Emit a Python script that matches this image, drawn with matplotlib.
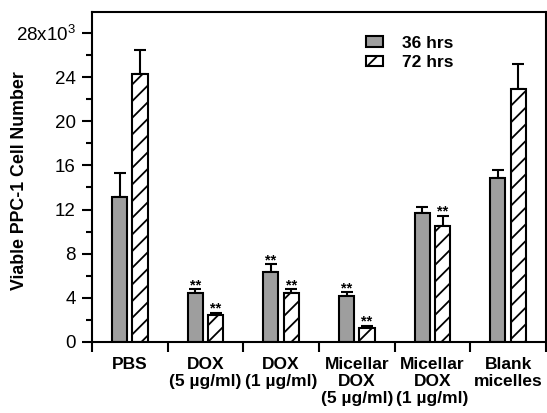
import numpy as np
import matplotlib
matplotlib.use("Agg")
from matplotlib import pyplot as plt
from matplotlib.patches import Patch

plt.rcParams['font.family'] = ['Liberation Sans', 'DejaVu Sans']
plt.rcParams['mathtext.fontset'] = 'custom'
plt.rcParams['mathtext.rm'] = 'Liberation Sans'
plt.rcParams['hatch.linewidth'] = 1.3

# data (x10^3 cells)
groups = ["PBS", "DOX\n(5 \u00b5g/ml)", "DOX\n(1 \u00b5g/ml)",
          "Micellar\nDOX\n(5 \u00b5g/ml)", "Micellar\nDOX\n(1 \u00b5g/ml)",
          "Blank\nmicelles"]
hrs36 = [13.1, 4.45, 6.3, 4.15, 11.65, 14.9]
err36 = [2.2, 0.35, 0.75, 0.35, 0.55, 0.7]
hrs72 = [24.3, 2.45, 4.4, 1.3, 10.55, 22.9]
err72 = [2.2, 0.2, 0.4, 0.15, 0.9, 2.3]
sig36 = [False, True, True, True, False, False]
sig72 = [False, True, True, True, True, False]
yticks = [0, 4, 8, 12, 16, 20, 24, 28]
ytick_labels = ['0', '4', '8', '12', '16', '20', '24', '28x10$^3$']

fig = plt.figure(figsize=(5.47, 4.13), dpi=100)
ax = fig.add_axes([0.168, 0.172, 0.830, 0.799])

x = np.arange(len(groups))
w = 0.2
off = 0.135
gray = '#9e9e9e'
ax.bar(x - off, hrs36, w, color=gray, edgecolor='black', linewidth=1.5, zorder=2)
ax.bar(x + off, hrs72, w, color='white', edgecolor='black', linewidth=1.5,
       hatch='//', zorder=2)
ax.errorbar(x - off, hrs36, yerr=[np.zeros(len(x)), err36], fmt='none',
            ecolor='black', elinewidth=1.5, capsize=4.3, capthick=1.5, zorder=1)
ax.errorbar(x + off, hrs72, yerr=[np.zeros(len(x)), err72], fmt='none',
            ecolor='black', elinewidth=1.5, capsize=4.3, capthick=1.5, zorder=1)

for i in range(len(x)):
    if sig36[i]:
        ax.annotate('**', (x[i] - off, hrs36[i] + err36[i]), xytext=(0, 0),
                    textcoords='offset points', ha='center', va='baseline',
                    fontsize=10.5, fontweight='bold')
    if sig72[i]:
        ax.annotate('**', (x[i] + off, hrs72[i] + err72[i]), xytext=(0, 0),
                    textcoords='offset points', ha='center', va='baseline',
                    fontsize=10.5, fontweight='bold')

ax.set_xlim(-0.5, len(groups) - 0.5)
ax.set_ylim(0, 29.9)
ax.set_yticks(yticks)
ax.set_yticklabels(ytick_labels, fontsize=13.5)
ax.set_yticks(np.arange(2, 30, 4), minor=True)
ax.tick_params(axis='y', which='major', direction='out', length=7.5, width=1.5, pad=4)
ax.tick_params(axis='y', which='minor', direction='out', length=4.5, width=1.5)

# category boundary ticks below axis, labels at centers
ax.set_xticks(np.arange(-0.5, len(groups), 1.0))
ax.set_xticklabels([])
ax.tick_params(axis='x', which='major', direction='out', length=7.5, width=1.5)
ax.set_xticks(x, minor=True)
ax.set_xticklabels(groups, minor=True, fontsize=12.5, fontweight='bold',
                   linespacing=1.15)
ax.tick_params(axis='x', which='minor', length=0, pad=11)

for s in ax.spines.values():
    s.set_linewidth(1.5)

ax.set_ylabel('Viable PPC-1 Cell Number', fontsize=12.8, fontweight='bold')
ax.yaxis.set_label_coords(-0.141, 0.49)

handles = [Patch(facecolor=gray, edgecolor='black', linewidth=1.5),
           Patch(facecolor='white', edgecolor='black', linewidth=1.5, hatch='/')]
leg = ax.legend(handles, ['36 hrs', '72 hrs'], loc='upper left',
                bbox_to_anchor=(0.57, 0.975), frameon=False,
                prop={'size': 12.5, 'weight': 'bold'}, handlelength=0.95,
                handleheight=0.55, handletextpad=1.1, labelspacing=0.25)

fig.savefig('out.png', dpi=100)
